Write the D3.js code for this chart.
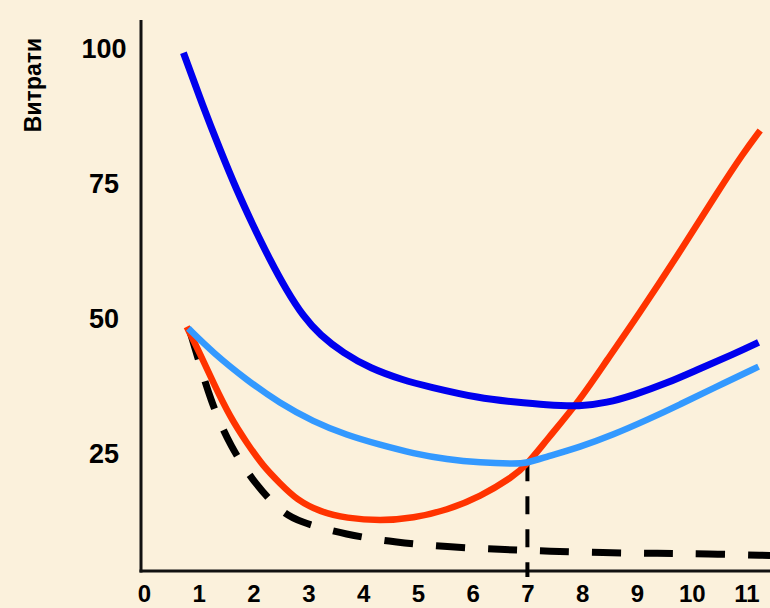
<!DOCTYPE html>
<html><head><meta charset="utf-8">
<script src="https://cdn.jsdelivr.net/npm/d3@7"></script>
<style>
html,body{margin:0;padding:0;background:#FBF1DC;}
svg{display:block;}
</style></head><body>
<svg id="chart" width="770" height="608"></svg>
<script>
// ---- data ----
const xTicks = [0,1,2,3,4,5,6,7,8,9,10,11];
const yTicks = [25,50,75,100];
const yTitle = "Витрати";
const markX = 7;      // dashed guide at Q = 7
const markY = 23.1;   // minimum of the light-blue curve

// dark blue curve
const avgTotal = [[0.72,99.2],[1.08,89.2],[1.39,81.2],[1.69,73.8],[2.0,67.0],[2.3,60.8],[2.6,55.2],
  [2.91,50.3],[3.21,46.9],[3.64,43.5],[4.13,40.7],[4.73,38.5],[5.19,37.3],[6.14,35.1],[6.74,34.5],
  [7.35,33.9],[7.96,33.6],[8.45,34.3],[8.93,35.7],[9.54,37.9],[10.16,40.7],[10.76,43.3],[11.22,45.5]];
// light blue curve
const avgVariable = [[0.81,48.1],[1.27,43.5],[1.88,38.5],[2.48,34.2],[3.09,30.8],[3.7,28.3],[4.31,26.5],
  [4.92,24.9],[5.53,23.8],[6.14,23.2],[6.74,23.0],[6.99,23.1],[7.35,24.3],[7.96,26.1],[8.57,28.4],
  [9.18,31.1],[9.79,34.0],[10.39,37.0],[11.22,41.0]];
// red curve
const marginal = [[0.78,48.4],[1.02,43.5],[1.27,37.9],[1.57,31.7],[1.88,26.8],[2.18,22.5],[2.48,19.4],
  [2.79,16.3],[3.21,14.1],[3.7,12.9],[4.31,12.4],[4.92,12.9],[5.53,14.4],[6.14,16.9],[6.74,20.6],
  [6.99,22.8],[7.35,27.4],[7.96,34.8],[8.45,42.2],[9.0,50.2],[9.85,63.3],[10.46,73.2],[10.94,80.6],[11.25,84.8]];
// black dashed curve
const avgFixed = [[0.84,47.5],[0.96,43.5],[1.21,34.8],[1.57,26.2],[2.06,18.8],[2.48,14.4],[2.79,12.3],
  [3.7,9.8],[4.61,8.4],[5.53,7.6],[6.5,7.1],[7.41,6.8],[8.38,6.5],[9.33,6.4],[10.27,6.3],[11.43,6.0]];

// ---- layout ----
const svg = d3.select("#chart");
const W = 770, H = 608;
const axisX = 141, axisY = 571, axisTop = 20;

const x = d3.scaleLinear().domain([0, 11]).range([144, 746.5]);
const y = d3.scaleLinear().domain([0, 100]).range([587.8, 48.5]);

svg.append("rect").attr("width", W).attr("height", H).attr("fill", "#FBF1DC");

// axes lines
svg.append("line").attr("x1", axisX).attr("x2", axisX).attr("y1", axisTop).attr("y2", axisY + 1.5)
  .attr("stroke", "#111").attr("stroke-width", 3);
svg.append("line").attr("x1", axisX - 1.5).attr("x2", W).attr("y1", axisY).attr("y2", axisY)
  .attr("stroke", "#111").attr("stroke-width", 3);

// x tick labels
const gx = svg.append("g").attr("transform", `translate(0,${axisY})`)
  .call(d3.axisBottom(x).tickValues(xTicks).tickSize(0).tickPadding(0).tickFormat(d3.format("d")));
gx.select(".domain").remove();
gx.selectAll("text").attr("y", 23).attr("dy", "0.35em")
  .attr("font-family", "Liberation Sans, Arial, sans-serif").attr("font-weight", "bold")
  .attr("font-size", 24).attr("fill", "#000");

// y tick labels
const gy = svg.append("g").attr("transform", `translate(104,0)`)
  .call(d3.axisLeft(y).tickValues(yTicks).tickSize(0).tickPadding(0).tickFormat(d3.format("d")));
gy.select(".domain").remove();
gy.selectAll("text").attr("x", 0).attr("text-anchor", "middle").attr("dy", "0.35em")
  .attr("font-family", "Liberation Sans, Arial, sans-serif").attr("font-weight", "bold")
  .attr("font-size", 27).attr("fill", "#000");

// y title
svg.append("text").attr("transform", "translate(33,85) rotate(-90)")
  .attr("text-anchor", "middle").attr("dy", "0.35em")
  .attr("font-family", "Liberation Sans, Arial, sans-serif").attr("font-weight", "bold")
  .attr("font-size", 23).attr("fill", "#000").text(yTitle);

const line = d3.line().x(d => x(d[0])).y(d => y(d[1])).curve(d3.curveBasis);

// vertical dashed guide
svg.append("line").attr("x1", x(markX)).attr("x2", x(markX))
  .attr("y1", y(markY)).attr("y2", axisY + 6)
  .attr("stroke", "#000").attr("stroke-width", 4).attr("stroke-dasharray", "18,15");

svg.append("path").datum(avgFixed).attr("d", line).attr("fill", "none")
  .attr("stroke", "#000").attr("stroke-width", 7).attr("stroke-dasharray", "29,23");
svg.append("path").datum(marginal).attr("d", line).attr("fill", "none")
  .attr("stroke", "#FF3300").attr("stroke-width", 6.5);
svg.append("path").datum(avgVariable).attr("d", line).attr("fill", "none")
  .attr("stroke", "#3399FF").attr("stroke-width", 6.5);
svg.append("path").datum(avgTotal).attr("d", line).attr("fill", "none")
  .attr("stroke", "#0000EE").attr("stroke-width", 7);
</script>
</body></html>
